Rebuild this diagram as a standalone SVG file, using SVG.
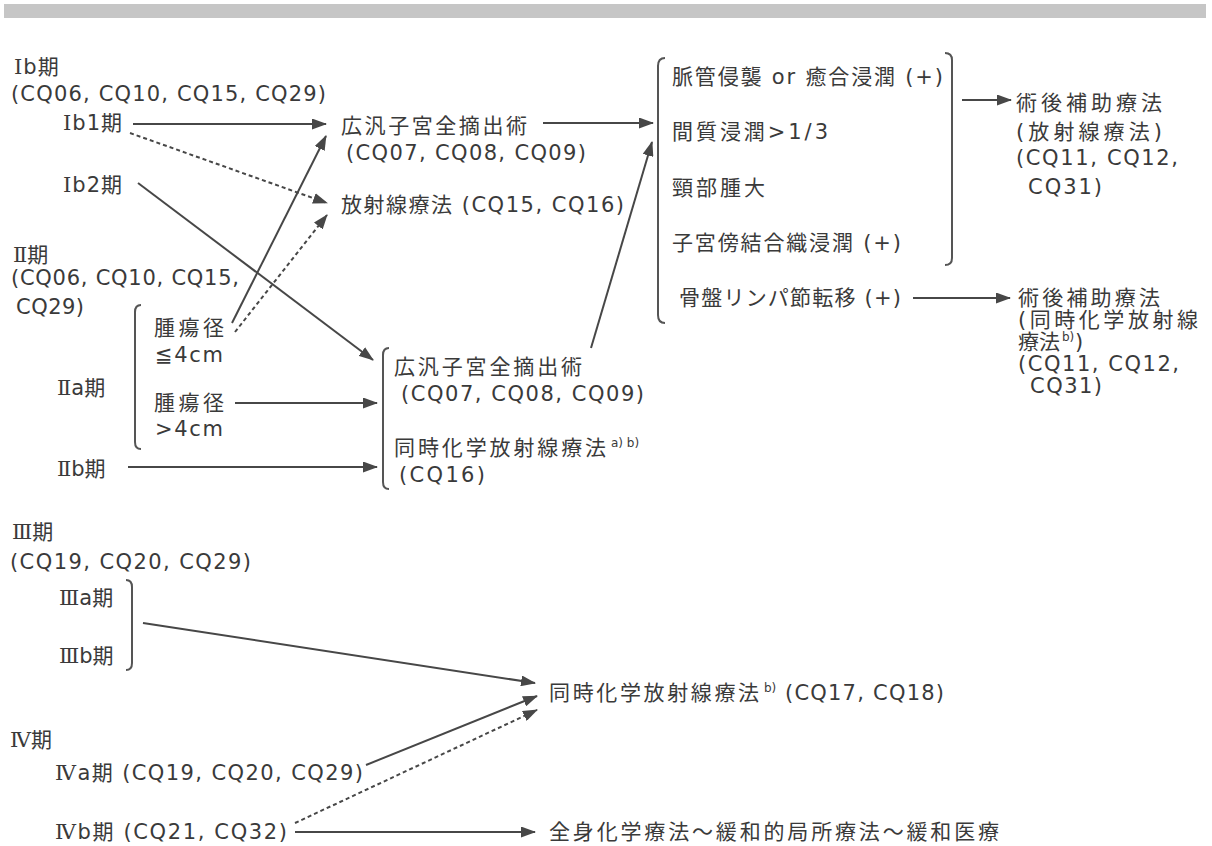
<svg xmlns="http://www.w3.org/2000/svg" width="1212" height="846" viewBox="0 0 1212 846">
<defs>
<style>
text{font-family:"DejaVu Sans","Noto Sans CJK JP",sans-serif;font-size:21px;fill:#3a3a3a;}
.rn{font-family:"DejaVu Serif","DejaVu Sans","Noto Sans CJK JP",serif;font-size:21px;}
.sup{font-size:12px;}
.ln{stroke:#474747;stroke-width:2;fill:none;}
.dash{stroke-dasharray:4 3;}
.br{stroke:#555;stroke-width:2;fill:none;}
</style>
<marker id="ah" markerWidth="15" markerHeight="11" refX="14" refY="5.5" orient="auto" markerUnits="userSpaceOnUse">
<path d="M0,0 L15,5.5 L0,11 Z" fill="#474747"/>
</marker>
</defs>
<rect x="0" y="0" width="1212" height="846" fill="#ffffff"/>
<rect x="4" y="4" width="1202" height="14" fill="#c6c6c6"/>

<g id="stage-ib">
<text x="14" y="74" letter-spacing="1"><tspan class="rn">Ⅰ</tspan>b期</text>
<text x="11" y="101" textLength="315">(CQ06, CQ10, CQ15, CQ29)</text>
</g>
<g id="stage-ib1"><text x="63" y="130" letter-spacing="1"><tspan class="rn">Ⅰ</tspan>b1期</text></g>
<g id="stage-ib2"><text x="63" y="192" letter-spacing="1"><tspan class="rn">Ⅰ</tspan>b2期</text></g>
<g id="stage-ii">
<text x="13" y="262"><tspan class="rn">Ⅱ</tspan>期</text>
<text x="11" y="285" textLength="228">(CQ06, CQ10, CQ15,</text>
<text x="16" y="314" textLength="68">CQ29)</text>
</g>
<g id="stage-iia">
<path class="br" d="M141,305 Q135,305 135,312 L135,442 Q135,449 141,449"/>
<text x="57" y="395"><tspan class="rn">Ⅱ</tspan>a期</text>
<text x="154" y="335" textLength="70">腫瘍径</text>
<text x="155" y="362" textLength="68">≦4cm</text>
<text x="154" y="410" textLength="70">腫瘍径</text>
<text x="155" y="436" textLength="68">&gt;4cm</text>
</g>
<g id="stage-iib"><text x="57" y="476"><tspan class="rn">Ⅱ</tspan>b期</text></g>

<g id="surgery">
<text x="341" y="133" textLength="186">広汎子宮全摘出術</text>
<text x="346" y="160" textLength="240">(CQ07, CQ08, CQ09)</text>
</g>
<g id="radiation"><text x="341" y="212" textLength="283">放射線療法 (CQ15, CQ16)</text></g>

<g id="treatment-ii">
<path class="br" d="M389,348 Q383,348 383,355 L383,482 Q383,489 389,489"/>
<text x="394" y="374" textLength="188">広汎子宮全摘出術</text>
<text x="401" y="401" textLength="243">(CQ07, CQ08, CQ09)</text>
<text y="455"><tspan x="394" textLength="212">同時化学放射線療法</tspan><tspan class="sup" x="611" y="447">a) b)</tspan></text>
<text x="399" y="482" textLength="86">(CQ16)</text>
</g>

<g id="risk-factors">
<path class="br" d="M665,58 Q658,58 658,66 L658,315 Q658,323 665,323"/>
<path class="br" d="M945,53 Q952,53 952,60 L952,258 Q952,265 945,265"/>
<text x="672" y="84" textLength="271">脈管侵襲 or 癒合浸潤 (+)</text>
<text x="672" y="139" textLength="156">間質浸潤&gt;1/3</text>
<text x="672" y="195" textLength="93">頸部腫大</text>
<text x="672" y="250" textLength="229">子宮傍結合織浸潤 (+)</text>
<text x="679" y="305" textLength="222">骨盤リンパ節転移 (+)</text>
</g>

<g id="adjuvant-rt">
<text x="1016" y="110" textLength="146">術後補助療法</text>
<text x="1016" y="139" textLength="146">(放射線療法)</text>
<text x="1016" y="165" textLength="162">(CQ11, CQ12,</text>
<text x="1028" y="194" textLength="74">CQ31)</text>
</g>
<g id="adjuvant-ccrt">
<text x="1018" y="305" textLength="142">術後補助療法</text>
<text x="1018" y="327" textLength="180">(同時化学放射線</text>
<text y="349"><tspan x="1018">療法</tspan><tspan class="sup" x="1062" y="341">b)</tspan><tspan x="1075" y="349">)</tspan></text>
<text x="1018" y="371" textLength="161">(CQ11, CQ12,</text>
<text x="1030" y="393" textLength="72">CQ31)</text>
</g>

<g id="stage-iii">
<text x="12" y="539"><tspan class="rn">Ⅲ</tspan>期</text>
<text x="10" y="569" textLength="241">(CQ19, CQ20, CQ29)</text>
<text x="59" y="605"><tspan class="rn">Ⅲ</tspan>a期</text>
<text x="59" y="663"><tspan class="rn">Ⅲ</tspan>b期</text>
<path class="br" d="M126,580 Q132,580 132,587 L132,663 Q132,670 126,670"/>
</g>

<g id="ccrt">
<text y="700"><tspan x="549" textLength="210">同時化学放射線療法</tspan><tspan class="sup" x="764" y="692">b)</tspan><tspan x="785" y="700" textLength="159">(CQ17, CQ18)</tspan></text>
</g>

<g id="stage-iv"><text x="10" y="747"><tspan class="rn">Ⅳ</tspan>期</text></g>
<g id="stage-iva"><text x="55" y="780" textLength="308"><tspan class="rn">Ⅳ</tspan>a期 (CQ19, CQ20, CQ29)</text></g>
<g id="stage-ivb"><text x="55" y="839" textLength="232"><tspan class="rn">Ⅳ</tspan>b期 (CQ21, CQ32)</text></g>
<g id="palliative"><text x="549" y="839" textLength="450">全身化学療法〜緩和的局所療法〜緩和医療</text></g>

<g id="connectors">
<line class="ln" x1="133" y1="124" x2="326" y2="124" marker-end="url(#ah)"/>
<line class="ln dash" x1="130" y1="133" x2="327" y2="203" marker-end="url(#ah)"/>
<line class="ln" x1="543" y1="123" x2="653" y2="123" marker-end="url(#ah)"/>
<line class="ln" x1="232" y1="323" x2="326" y2="136" marker-end="url(#ah)"/>
<line class="ln dash" x1="235" y1="332" x2="327" y2="215" marker-end="url(#ah)"/>
<line class="ln" x1="138" y1="183" x2="373" y2="360" marker-end="url(#ah)"/>
<line class="ln" x1="591" y1="348" x2="652" y2="142" marker-end="url(#ah)"/>
<line class="ln" x1="235" y1="403" x2="377" y2="403" marker-end="url(#ah)"/>
<line class="ln" x1="128" y1="467" x2="377" y2="467" marker-end="url(#ah)"/>
<line class="ln" x1="962" y1="100" x2="1011" y2="100" marker-end="url(#ah)"/>
<line class="ln" x1="913" y1="298" x2="1010" y2="298" marker-end="url(#ah)"/>
<line class="ln" x1="143" y1="623" x2="535" y2="683" marker-end="url(#ah)"/>
<line class="ln" x1="366" y1="765" x2="537" y2="696" marker-end="url(#ah)"/>
<line class="ln dash" x1="295" y1="823" x2="537" y2="710" marker-end="url(#ah)"/>
<line class="ln" x1="295" y1="832" x2="535" y2="832" marker-end="url(#ah)"/>
</g>
</svg>
